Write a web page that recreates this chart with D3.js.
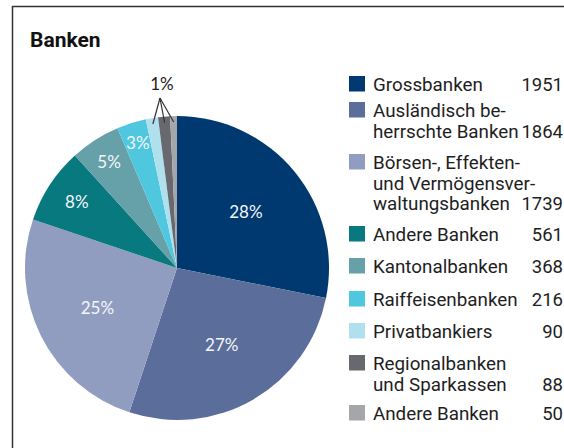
<!DOCTYPE html>
<html>
<head>
<meta charset="utf-8">
<script src="https://cdn.jsdelivr.net/npm/d3@7"></script>
<style>
  body { margin: 0; background: #fff; }
  svg { display: block; }
</style>
</head>
<body>
<section id="grafico"></section>
<script>
// data
const categories = [
    "Grossbanken",
    "Ausländisch beherrschte Banken",
    "Börsen-, Effekten- und Vermögensverwaltungsbanken",
    "Andere Banken",
    "Kantonalbanken",
    "Raiffeisenbanken",
    "Privatbankiers",
    "Regionalbanken und Sparkassen",
    "Andere Banken"
];
const values = [1951, 1864, 1739, 561, 368, 216, 90, 88, 50];
const legendLines = [
    ["Grossbanken"],
    ["Ausländisch be-", "herrschte Banken"],
    ["Börsen-, Effekten-", "und Vermögensver-", "waltungsbanken"],
    ["Andere Banken"],
    ["Kantonalbanken"],
    ["Raiffeisenbanken"],
    ["Privatbankiers"],
    ["Regionalbanken", "und Sparkassen"],
    ["Andere Banken"]
];
const colors = ["#003870", "#5b6d9b", "#919dc0", "#08797f", "#66a0a8",
                "#4fc7de", "#b0e0ee", "#68696e", "#a5a6aa"];

const width = 564;
const height = 448;
const cx = 177, cy = 268, radius = 152;

const svg = d3.select("section#grafico")
    .append("svg")
    .attr("width", width)
    .attr("height", height);

// frame
svg.append("path")
    .attr("d", `M12.5,${height} L12.5,6.5 L${width},6.5`)
    .attr("fill", "none")
    .attr("stroke", "#333")
    .attr("stroke-width", 1.5);

svg.append("text")
    .attr("x", 30).attr("y", 47)
    .style("font-family", "Roboto")
    .style("font-weight", "bold")
    .style("font-size", "21px")
    .attr("fill", "#111")
    .text("Banken");

const total = d3.sum(values);
const pie = d3.pie().sort(null).value(d => d.value);
const arcs = pie(values.map((v, i) => ({value: v, i: i})));
const arc = d3.arc().innerRadius(0).outerRadius(radius);

const g = svg.append("g").attr("transform", `translate(${cx},${cy})`);

g.selectAll("path.slice")
    .data(arcs)
    .enter()
    .append("path")
    .attr("class", "slice")
    .attr("d", arc)
    .attr("fill", d => colors[d.data.i]);

// percentage labels inside slices
const smallR = d3.scaleLinear().domain([0.03, 0.08]).range([131, 120]);
const labelR = p => p >= 0.2 ? 89 : smallR(p);

g.selectAll("text.pct")
    .data(arcs.filter(d => d.value / total >= 0.025))
    .enter()
    .append("text")
    .attr("class", "pct")
    .attr("transform", d => {
        const a = (d.startAngle + d.endAngle) / 2;
        const r = labelR(d.value / total);
        return `translate(${Math.sin(a) * r},${-Math.cos(a) * r})`;
    })
    .attr("text-anchor", "middle")
    .attr("dy", "0.36em")
    .style("font-family", "Lato")
    .style("font-size", "17px")
    .attr("fill", "#f4f6fa")
    .text(d => Math.round(d.value / total * 100) + "%");

// 1% callout for the three smallest slices
const tiny = arcs.filter(d => d.value / total < 0.025);
const apex = [-17, -170];
g.selectAll("line.callout")
    .data(tiny)
    .enter()
    .append("line")
    .attr("class", "callout")
    .attr("x1", apex[0]).attr("y1", apex[1])
    .attr("x2", d => Math.sin((d.startAngle + d.endAngle) / 2) * 146)
    .attr("y2", d => -Math.cos((d.startAngle + d.endAngle) / 2) * 146)
    .attr("stroke", "#333")
    .attr("stroke-width", 1.2);

g.append("text")
    .attr("x", apex[0] + 2).attr("y", apex[1] - 8)
    .attr("text-anchor", "middle")
    .style("font-family", "Lato")
    .style("font-size", "17px")
    .attr("fill", "#222")
    .text("1%");

// legend
const lineH = 20.5;
const rowHeights = [26, 52, 72, 32, 33, 32, 32, 50];
const rowTops = [76];
rowHeights.forEach(h => rowTops.push(rowTops[rowTops.length - 1] + h));

const legend = svg.append("g");
const rows = legend.selectAll("g.row")
    .data(categories)
    .enter()
    .append("g")
    .attr("class", "row")
    .attr("transform", (d, i) => `translate(0,${rowTops[i]})`);

rows.append("rect")
    .attr("x", 349).attr("y", 0)
    .attr("width", 16).attr("height", 15.5)
    .attr("fill", (d, i) => colors[i]);

rows.each(function(d, i) {
    const row = d3.select(this);
    legendLines[i].forEach((t, k) => {
        row.append("text")
            .attr("x", 373).attr("y", 15 + k * lineH)
            .style("font-family", "Roboto")
            .style("font-size", "18.8px")
            .attr("fill", "#1e1e1e")
            .text(t);
    });
    row.append("text")
        .attr("x", 563).attr("y", 15 + (legendLines[i].length - 1) * lineH)
        .attr("text-anchor", "end")
        .style("font-family", "'Liberation Sans Narrow', Roboto")
        .style("font-size", "18.5px")
        .attr("fill", "#1e1e1e")
        .text(values[i]);
});
</script>
</body>
</html>
